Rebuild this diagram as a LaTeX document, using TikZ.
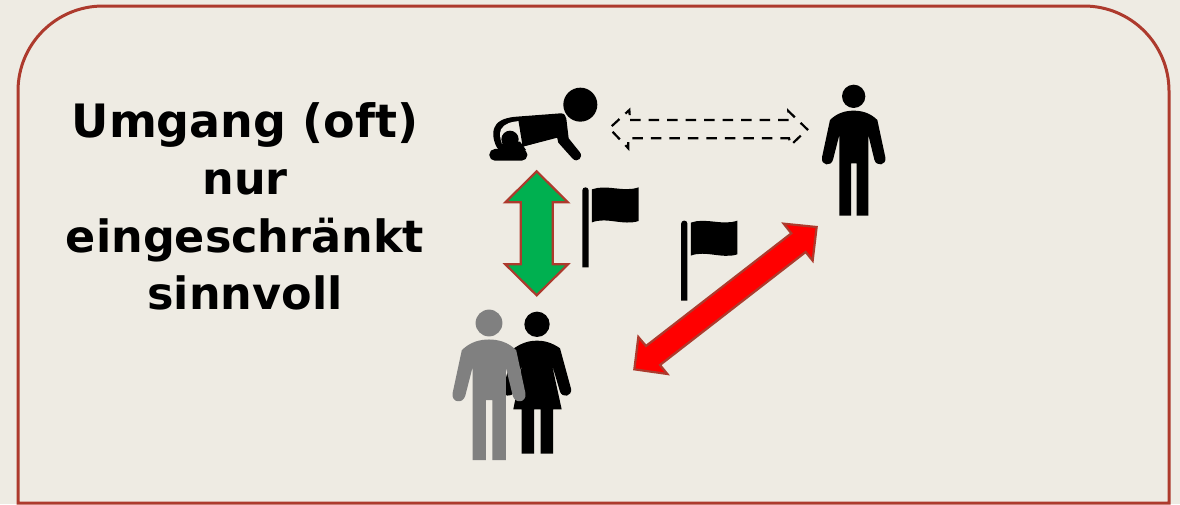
\documentclass[tikz,border=0pt]{standalone}
\usepackage{fontspec}
\setmainfont{DejaVu Sans}
\definecolor{bgc}{HTML}{EEEBE3}
\definecolor{rust}{HTML}{AD3A2D}
\definecolor{arrowgreen}{HTML}{00B050}
\definecolor{mangray}{HTML}{808080}
\tikzset{
  frameline/.style={draw=rust,line width=3pt,fill=bgc},
  blockarrow/.style={draw=rust,line width=2.2pt,line join=miter},
  dashedarrow/.style={draw=black,line width=2.2pt,dash pattern=on 10.5pt off 8pt},
  zoomed/.style={x=0.3333pt,y=-0.3333pt}
}
% person, z-coordinates relative to the head centre
\newcommand{\manshape}[1]{%
  \fill[#1] (0,0) circle[radius=35];
  \fill[#1] (-71,71) .. controls (-50,50) and (-25,43) .. (0,43)
    .. controls (25,43) and (50,50) .. (71,71)
    -- (95,183) .. controls (99,208) and (68,212) .. (62,190)
    -- (44,116) -- (44,358) -- (9,358) -- (9,201) -- (-8,201) -- (-8,358) -- (-43,358)
    -- (-43,116) -- (-62,190) .. controls (-68,212) and (-99,208) .. (-95,183) -- cycle;
}
\newcommand{\womanshape}{%
  \fill[black] (0,0) circle[radius=38];
  \fill[black] (-69,72) .. controls (-45,55) and (-22,49) .. (0,49)
    .. controls (22,49) and (45,55) .. (69,72)
    -- (102,193) .. controls (106,217) and (76,222) .. (69,202)
    -- (44,117) -- (74,255) -- (48,255) -- (48,388) -- (11,388) -- (11,255)
    -- (-9,255) -- (-9,388) -- (-46,388) -- (-46,255) -- (-71,255)
    -- (-44,117) -- (-69,202) .. controls (-76,222) and (-106,217) .. (-102,193) -- cycle;
}
\newcommand{\flagshape}{%
  \fill[black] (277,322) -- (277,91) .. controls (277,79) and (296,79) .. (296,91) -- (296,322) -- cycle;
  \fill[black] (306,88) .. controls (350,72) and (400,98) .. (446,82)
    -- (446,183) .. controls (400,198) and (350,170) .. (306,187) -- cycle;
}
\begin{document}
\begin{tikzpicture}[x=1pt,y=-1pt]
\useasboundingbox (0,0) rectangle (1180,504);
\fill[bgc] (0,0) rectangle (1180,504);
% frame
\path[frameline] (18,503) -- (18,91) arc[start angle=180,end angle=270,radius=85]
  -- (1084,6) arc[start angle=270,end angle=360,radius=85] -- (1169,503) -- cycle;
% title
\node[align=center,font=\fontsize{44.5}{57.5}\selectfont\bfseries,inner sep=0pt] (title) at (245,206.5)
  {{\fontsize{46}{57.5}\selectfont Umgang (oft)}\\nur\\eingeschränkt\\sinnvoll};
% baby
\begin{scope}[shift={(470,70)},zoomed]
  \fill[black] (331,104) circle[radius=51];
  \fill[black] (272,130) .. controls (283,129) and (288,138) .. (289,146)
    -- (296,205) -- (329,246) .. controls (342,262) and (322,280) .. (308,266)
    -- (265,218) -- (261,201) -- (150,232) -- (105,240) -- (85,238)
    .. controls (70,220) and (65,185) .. (75,170)
    .. controls (85,148) and (115,142) .. (140,140) -- cycle;
  \fill[bgc] (150,153) .. controls (125,155) and (103,160) .. (93,178)
    .. controls (88,192) and (90,205) .. (96,222) -- (158,222) -- cycle;
  \fill[black] (145,150) -- (262,138) -- (270,201) -- (158,230) -- cycle;
  \fill[black] (120,208) circle[radius=26];
  \fill[black] (98,215) -- (150,215) .. controls (160,228) and (165,235) .. (168,240) -- (98,240) -- cycle;
  \fill[black,rounded corners=5.5pt] (58,237) rectangle (172,272);
\end{scope}
% person right
\begin{scope}[shift={(853.67,96.33)},zoomed]
  \manshape{black}
\end{scope}
% couple
\begin{scope}[shift={(537,324.3)},zoomed]
  \womanshape
\end{scope}
\begin{scope}[shift={(489,323)},x=0.3833pt,y=-0.3833pt]
  \manshape{mangray}
\end{scope}
% flags
\begin{scope}[shift={(490,160)},zoomed]
  \flagshape
\end{scope}
\begin{scope}[shift={(588.8,193.3)},zoomed]
  \flagshape
\end{scope}
% green arrow
\begin{scope}[shift={(490,160)},zoomed]
  \filldraw[blockarrow,fill=arrowgreen] (140,34) -- (234,127) -- (188,127) -- (188,313) -- (234,313)
    -- (140,406) -- (46,313) -- (92,313) -- (92,127) -- (46,127) -- cycle;
\end{scope}
% red arrow
\begin{scope}[shift={(620,210)},zoomed]
  \filldraw[blockarrow,fill=red] (590,51) -- (491,41) -- (514,70) -- (78,408) -- (55,381)
    -- (43,478) -- (142,492) -- (120,465) -- (557,126) -- (578,152) -- cycle;
\end{scope}
% dashed arrow
\begin{scope}[shift={(600,70)},zoomed]
  \draw[dashedarrow] (90,150) -- (567,150) -- (565,123) -- (622,178) -- (573,225)
    -- (567,205) -- (85,205) -- (85,235) -- (28,175) -- (88,120) -- cycle;
\end{scope}
\end{tikzpicture}
\end{document}
